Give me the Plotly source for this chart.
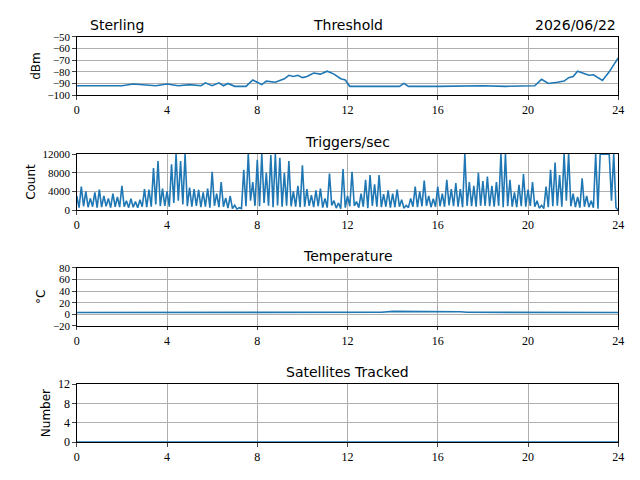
import plotly.graph_objects as go

thr_h = [0,0.5,1,1.5,2,2.5,3,3.5,4,4.5,5,5.5,5.7,6,6.3,6.5,6.7,7,7.5,7.8,8,8.2,8.4,8.8,9.2,9.4,9.6,9.8,10,10.2,10.5,10.8,11.1,11.4,11.7,11.9,12.1,13,14.3,14.5,14.7,16,17,18,19,20,20.3,20.6,20.9,21.3,21.6,21.8,22,22.2,22.5,22.7,22.9,23.3,23.6,24]
thr_v = [-92,-92,-91.5,-92,-92,-90.5,-91,-92,-90.5,-92,-91,-92,-89.5,-92,-89.5,-92,-90,-92.5,-92.5,-87,-89,-91,-88,-89,-86,-83,-84,-83,-85,-84,-81,-82,-79.5,-82,-86,-87,-92.5,-92.5,-92.5,-90,-92.5,-92.5,-92,-92,-92.5,-92,-92,-86.5,-90,-89,-88,-85,-84,-79.5,-82,-83,-82.5,-87.5,-80,-68]

trig = [
3000,500,5000,800,4000,600,2500,700,3800,500,
4400,600,3000,800,2500,500,3500,700,2800,600,
5200,700,2000,500,2400,600,1800,500,2200,700,
4500,600,4400,700,9000,1200,10500,800,4600,900,
4000,700,9800,1500,12000,2000,10500,1200,12000,800,
4800,700,4500,900,4300,600,3800,700,4600,500,
8200,900,3500,600,6000,700,2600,400,3000,300,
1000,200,500,300,8600,800,12000,2000,6000,900,
10800,800,12000,1500,8000,900,11800,600,12000,1000,
11200,700,8000,900,10500,800,4000,700,5200,600,
9600,700,4500,900,3200,600,4200,800,4600,500,
2500,500,7800,1000,2000,400,1500,300,8800,500,
3000,800,8200,900,1800,500,3500,700,6500,400,
7500,900,5500,700,7500,600,3400,700,4200,500,
3500,600,4400,700,2200,400,1000,500,2500,700,
5000,600,4000,800,6300,900,3000,600,2400,700,
5000,800,3500,700,6500,1000,4500,800,5800,700,
4500,600,12000,900,6000,800,5200,700,8000,900,
6200,900,7200,800,5200,700,6000,900,12000,600,
12000,800,6500,700,3800,600,5400,800,7700,700,
4400,900,6000,700,2000,400,1000,300,5000,600,
8600,800,10200,900,7500,700,12000,2000,12000,800,
3500,600,2800,500,6800,700,3000,600,2000,500,
12000,300,12000,12000,12000,12000,12000,2000,12000,500,
0]
trig_h = [i*0.1 for i in range(len(trig))]

temp_h = [0,6,12,13.5,14,16,17,17.3,20,24]
temp_v = [3,3,3,3.5,5,5,4.5,3.5,3,3]
sat_h = [0,24]
sat_v = [0,0]

titles = ["Threshold","Triggers/sec","Temperature","Satellites Tracked"]
ylabels = ["dBm","Count","°C","Number"]
yranges = [[-100,-50],[0,12000],[-20,80],[0,12]]
yticks = [[-100,-90,-80,-70,-60,-50],[0,4000,8000,12000],[-20,0,20,40,60,80],[0,4,8,12]]
xticks = [0,4,8,12,16,20,24]

doms = [(0.802,0.923),(0.5625,0.679),(0.321,0.442),(0.079,0.2)]
C = "#1f77b4"
serif = "Liberation Serif"
sans = "DejaVu Sans"

fig = go.Figure()
series = [(thr_h,thr_v),(trig_h,trig),(temp_h,temp_v),(sat_h,sat_v)]
for i,(x,y) in enumerate(series):
    s = "" if i==0 else str(i+1)
    fig.add_trace(go.Scatter(x=x,y=y,mode="lines",line=dict(color=C,width=1.6),
                             xaxis="x"+s,yaxis="y"+s,showlegend=False))
    ax = dict(showline=True,mirror=True,linecolor="black",linewidth=1,ticks="outside",ticklen=3.5,
              gridcolor="#b0b0b0",gridwidth=0.8,zeroline=False,automargin=False,
              tickfont=dict(family=serif,size=12,color="black"))
    fig.update_layout(**{
        "xaxis"+s: dict(ax,domain=[0.12,0.966],range=[0,24],tickvals=xticks,anchor="y"+s),
        "yaxis"+s: dict(ax,domain=list(doms[i]),range=yranges[i],tickvals=yticks[i],
                        ticktext=[str(v).replace("-","−") for v in yticks[i]],anchor="x"+s,
                        tickfont=dict(family=serif,size=11 if i!=3 else 12,color="black"),
                        title=dict(text=ylabels[i],font=dict(family=sans,size=12,color="black"),standoff=4)),
    })
    fig.add_annotation(text=titles[i],x=0.543,y=doms[i][1],xref="paper",yref="paper",yanchor="bottom",
                       yshift=2,showarrow=False,font=dict(family=sans,size=14,color="black"))
fig.add_annotation(text="Sterling",x=0.138,y=0.923,xref="paper",yref="paper",xanchor="left",yanchor="bottom",
                   yshift=2,showarrow=False,font=dict(family=sans,size=14,color="black"))
fig.add_annotation(text="2026/06/22",x=0.966,y=0.923,xref="paper",yref="paper",xanchor="right",yanchor="bottom",
                   yshift=2,showarrow=False,font=dict(family=sans,size=14,color="black"))
fig.update_layout(width=640,height=480,margin=dict(l=0,r=0,t=0,b=0),plot_bgcolor="white",paper_bgcolor="white")
fig.write_html("out.html", post_script="document.body.style.margin='0';",
               config={"displayModeBar": False})
